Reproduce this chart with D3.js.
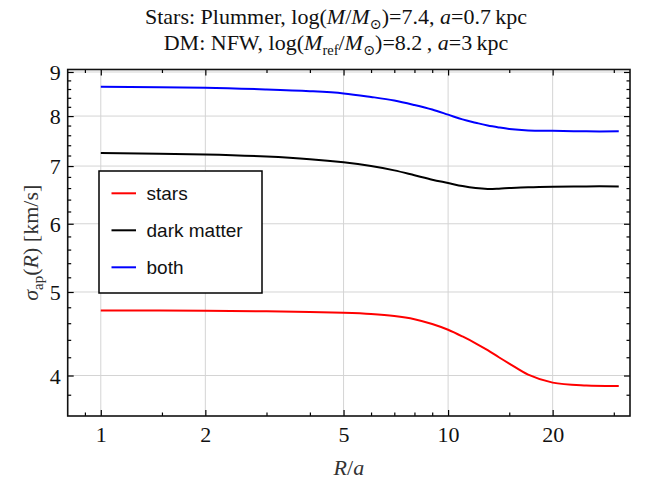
<!DOCTYPE html>
<html>
<head>
<meta charset="utf-8">
<script src="https://cdn.jsdelivr.net/npm/d3@7"></script>
<style>
  html, body { margin: 0; padding: 0; background: #fff; }
  svg { display: block; }
  .serif { font-family: "Liberation Serif", "DejaVu Serif", serif; }
</style>
</head>
<body>
<svg id="chart" width="649" height="487"></svg>
<script>
// ---- data ----
const radii = [1, 2, 3, 4, 5, 6, 7, 8, 9, 10, 11, 12, 13, 14, 15, 17, 20, 25, 31];
const starsSigma = [4.76, 4.755, 4.748, 4.74, 4.73, 4.715, 4.69, 4.65, 4.59, 4.52, 4.44, 4.36, 4.28, 4.20, 4.13, 4.01, 3.925, 3.895, 3.89];
const dmSigma    = [7.25, 7.22, 7.18, 7.13, 7.07, 7.00, 6.92, 6.83, 6.75, 6.69, 6.635, 6.60, 6.585, 6.59, 6.60, 6.615, 6.625, 6.63, 6.63];
const bothSigma  = [8.65, 8.63, 8.59, 8.55, 8.50, 8.42, 8.34, 8.24, 8.14, 8.03, 7.93, 7.86, 7.80, 7.76, 7.73, 7.70, 7.69, 7.68, 7.68];
const seriesNames = ["stars", "dark matter", "both"];
const seriesColors = ["#ff0000", "#000000", "#0000ff"];
const xMajorTicks = [1, 2, 5, 10, 20];
const xMinorTicks = [0.9, 1.5, 3, 4, 6, 7, 8, 9, 15, 30];
const yMajorTicks = [4, 5, 6, 7, 8, 9];
const yMinorTicks = [3.8, 4.2, 4.4, 4.6, 4.8, 5.2, 5.4, 5.6, 5.8, 6.2, 6.4, 6.6, 6.8, 7.2, 7.4, 7.6, 7.8, 8.2, 8.4, 8.6, 8.8];
const xDomain = [0.803, 33.4];
const yDomain = [3.59, 9.06];

// ---- layout ----
const svg = d3.select("#chart");
const L = 67.7, R = 630, T = 69.5, B = 416;
const W = R - L, H = B - T;
const x = d3.scaleLog().domain(xDomain).range([0, W]);
const y = d3.scaleLog().domain(yDomain).range([H, 0]);

const g = svg.append("g").attr("transform", `translate(${L},${T})`);

// grid
g.append("g").selectAll("line").data(xMajorTicks).join("line")
  .attr("x1", d => x(d)).attr("x2", d => x(d)).attr("y1", 0).attr("y2", H)
  .attr("stroke", "#d4d4d4").attr("stroke-width", 1);
g.append("g").selectAll("line").data(yMajorTicks).join("line")
  .attr("x1", 0).attr("x2", W).attr("y1", d => y(d)).attr("y2", d => y(d))
  .attr("stroke", "#d4d4d4").attr("stroke-width", 1);

// curves
const series = [starsSigma, dmSigma, bothSigma];
const line = d3.line().x((d, i) => x(radii[i])).y(d => y(d)).curve(d3.curveCatmullRom.alpha(0.5));
series.forEach((s, k) => {
  g.append("path").datum(s).attr("d", line)
    .attr("fill", "none").attr("stroke", seriesColors[k]).attr("stroke-width", 2);
});

// axes
function styleAxis(sel) {
  sel.select(".domain").remove();
  sel.selectAll(".tick line").attr("stroke", "#000").attr("stroke-width", 1.2);
}
const fontSize = 22;
const xb = g.append("g").attr("transform", `translate(0,${H})`)
  .call(d3.axisBottom(x).tickValues(xMajorTicks).tickSize(-6).tickFormat(d3.format("d")));
styleAxis(xb);
xb.selectAll(".tick text").attr("class", "serif").attr("font-size", fontSize).attr("fill", "#111")
  .attr("y", 26).attr("dy", 0);
g.append("g").attr("transform", `translate(0,${H})`)
  .call(d3.axisBottom(x).tickValues(xMinorTicks).tickSize(-3.5).tickFormat(""))
  .call(styleAxis);
g.append("g").call(d3.axisTop(x).tickValues(xMajorTicks).tickSize(-6).tickFormat("")).call(styleAxis);
g.append("g").call(d3.axisTop(x).tickValues(xMinorTicks).tickSize(-3.5).tickFormat("")).call(styleAxis);
const yl = g.append("g").call(d3.axisLeft(y).tickValues(yMajorTicks).tickSize(-6).tickFormat(d3.format("d")));
styleAxis(yl);
yl.selectAll(".tick text").attr("class", "serif").attr("font-size", fontSize).attr("fill", "#111")
  .attr("x", -7).attr("dy", "0.34em");
g.append("g").call(d3.axisLeft(y).tickValues(yMinorTicks).tickSize(-3.5).tickFormat("")).call(styleAxis);
g.append("g").attr("transform", `translate(${W},0)`)
  .call(d3.axisRight(y).tickValues(yMajorTicks).tickSize(-6).tickFormat("")).call(styleAxis);
g.append("g").attr("transform", `translate(${W},0)`)
  .call(d3.axisRight(y).tickValues(yMinorTicks).tickSize(-3.5).tickFormat("")).call(styleAxis);

// frame
g.append("rect").attr("x", 0).attr("y", 0).attr("width", W).attr("height", H)
  .attr("fill", "none").attr("stroke", "#111").attr("stroke-width", 1.6);

// legend
const lg = svg.append("g").attr("transform", "translate(99,171)");
lg.append("rect").attr("width", 163).attr("height", 122)
  .attr("fill", "#fff").attr("stroke", "#000").attr("stroke-width", 1.5);
seriesNames.forEach((name, k) => {
  const yy = 22.3 + k * 37;
  lg.append("line").attr("x1", 12.5).attr("x2", 37).attr("y1", yy).attr("y2", yy)
    .attr("stroke", seriesColors[k]).attr("stroke-width", 2);
  lg.append("text").attr("x", 47.5).attr("y", yy).attr("dy", "0.35em")
    .attr("font-family", "'Liberation Sans', Arial, sans-serif").attr("font-size", 19)
    .attr("fill", "#111").text(name);
});

// title
const cx = 336;
const tfs = 22, sfs = 14.5;
const t1 = svg.append("text").attr("class", "serif").attr("x", cx).attr("y", 24)
  .attr("text-anchor", "middle").attr("font-size", tfs).attr("fill", "#111");
t1.append("tspan").text("Stars: Plummer, log(");
t1.append("tspan").attr("font-style", "italic").text("M");
t1.append("tspan").text("/");
t1.append("tspan").attr("font-style", "italic").text("M");
t1.append("tspan").attr("font-size", sfs).attr("dy", 5).text("⊙");
t1.append("tspan").attr("dy", -5).text(")=7.4, ");
t1.append("tspan").attr("font-style", "italic").text("a");
t1.append("tspan").text("=0.7\u2009kpc");

const t2 = svg.append("text").attr("class", "serif").attr("x", cx).attr("y", 50)
  .attr("text-anchor", "middle").attr("font-size", tfs).attr("fill", "#111");
t2.append("tspan").text("DM: NFW, log(");
t2.append("tspan").attr("font-style", "italic").text("M");
t2.append("tspan").attr("font-size", sfs).attr("dy", 5).text("ref");
t2.append("tspan").attr("dy", -5).text("/");
t2.append("tspan").attr("font-style", "italic").text("M");
t2.append("tspan").attr("font-size", sfs).attr("dy", 5).text("⊙");
t2.append("tspan").attr("dy", -5).text(")=8.2\u2009, ");
t2.append("tspan").attr("font-style", "italic").text("a");
t2.append("tspan").text("=3\u2009kpc");

// axis titles
const xt = svg.append("text").attr("class", "serif").attr("x", L + W / 2).attr("y", 475)
  .attr("text-anchor", "middle").attr("font-size", 22).attr("fill", "#333");
xt.append("tspan").attr("font-style", "italic").text("R");
xt.append("tspan").text("/");
xt.append("tspan").attr("font-style", "italic").text("a");

const yt = svg.append("text").attr("class", "serif")
  .attr("transform", `translate(38,${T + H / 2}) rotate(-90)`)
  .attr("text-anchor", "middle").attr("font-size", 22).attr("fill", "#333");
yt.append("tspan").attr("font-style", "italic").text("σ");
yt.append("tspan").attr("font-size", 15).attr("dy", 5).text("ap");
yt.append("tspan").attr("dy", -5).text("(");
yt.append("tspan").attr("font-style", "italic").text("R");
yt.append("tspan").text(") [km/s]");
</script>
</body>
</html>
